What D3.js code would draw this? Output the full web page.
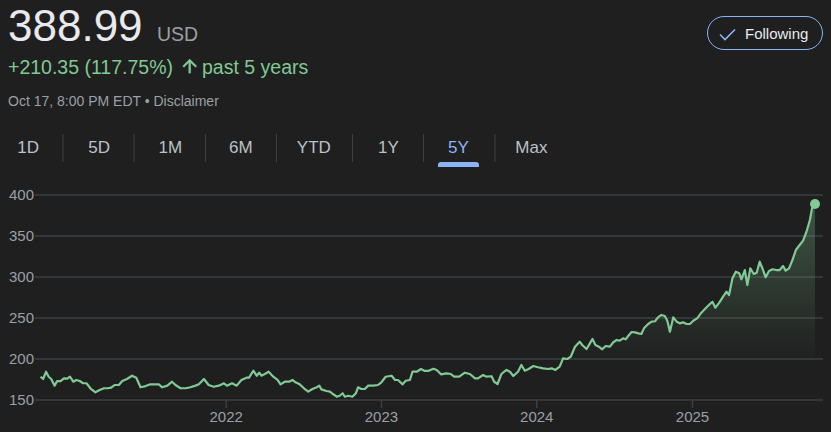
<!DOCTYPE html>
<html>
<head>
<meta charset="utf-8">
<script src="https://cdn.jsdelivr.net/npm/d3@7"></script>
<style>
  html, body { margin: 0; padding: 0; background: #1f1f1f; }
  svg { display: block; }
  text { font-family: "Liberation Sans", Arial, sans-serif; }
</style>
</head>
<body>
<svg id="chart" width="831" height="432"></svg>
<script>
// ---------- data ----------
const dates = [
  "2020-10-23","2020-10-29","2020-11-05","2020-11-11","2020-11-17","2020-11-25","2020-12-01","2020-12-09","2020-12-17","2020-12-25","2020-12-31",
  "2021-01-08","2021-01-15","2021-01-23","2021-01-31","2021-02-08","2021-02-17","2021-03-01","2021-03-11","2021-03-21","2021-03-30","2021-04-07","2021-04-15","2021-04-25","2021-05-03","2021-05-14","2021-05-26","2021-06-05","2021-06-15","2021-06-27","2021-07-08","2021-07-20","2021-07-28","2021-08-05","2021-08-17","2021-08-28","2021-09-05","2021-09-17","2021-09-29","2021-10-10","2021-10-22","2021-10-30","2021-11-11","2021-11-22","2021-12-04","2021-12-16","2021-12-28",
  "2022-01-04","2022-01-16","2022-01-27","2022-02-07","2022-02-19","2022-02-25","2022-03-07","2022-03-15","2022-03-21","2022-03-26","2022-04-03","2022-04-12","2022-04-23","2022-05-03","2022-05-10","2022-05-20","2022-05-30","2022-06-07","2022-06-14","2022-06-24","2022-07-04","2022-07-14","2022-07-24","2022-08-03","2022-08-09","2022-08-14","2022-08-26","2022-09-03","2022-09-11","2022-09-19","2022-09-26","2022-10-03","2022-10-08","2022-10-16","2022-10-26","2022-11-03","2022-11-08","2022-11-16","2022-11-24","2022-12-02","2022-12-14","2022-12-25",
  "2023-01-02","2023-01-12","2023-01-26","2023-02-03","2023-02-10","2023-02-21","2023-02-28","2023-03-10","2023-03-16","2023-03-26","2023-04-05","2023-04-14","2023-04-22","2023-05-04","2023-05-12","2023-05-22","2023-06-04","2023-06-14","2023-06-22","2023-07-04","2023-07-17","2023-07-29","2023-08-10","2023-08-17","2023-08-29","2023-09-06","2023-09-18","2023-09-24","2023-10-02","2023-10-11","2023-10-23","2023-10-31","2023-11-08","2023-11-19","2023-11-27","2023-12-05","2023-12-14","2023-12-25",
  "2024-01-05","2024-01-17","2024-01-29","2024-02-06","2024-02-15","2024-02-25","2024-03-04","2024-03-14","2024-03-22","2024-04-01","2024-04-12","2024-04-18","2024-04-28","2024-05-06","2024-05-12","2024-05-19","2024-05-27","2024-06-04","2024-06-12","2024-06-22","2024-06-30","2024-07-08","2024-07-15","2024-07-23","2024-07-29","2024-08-04","2024-08-12","2024-08-20","2024-08-28","2024-09-04","2024-09-10","2024-09-20","2024-09-28","2024-10-06","2024-10-13","2024-10-21","2024-10-29","2024-11-04","2024-11-10","2024-11-18","2024-11-26","2024-12-03","2024-12-11","2024-12-19","2024-12-27",
  "2025-01-04","2025-01-13","2025-01-23","2025-02-02","2025-02-12","2025-02-18","2025-02-25","2025-03-06","2025-03-15","2025-03-23","2025-03-29","2025-04-06","2025-04-14","2025-04-22","2025-04-27","2025-05-05","2025-05-11","2025-05-18","2025-05-26","2025-06-02","2025-06-09","2025-06-17","2025-06-23","2025-07-01","2025-07-09","2025-07-18","2025-07-26","2025-08-03","2025-08-09","2025-08-17","2025-08-25","2025-09-02","2025-09-11","2025-09-19","2025-09-27","2025-10-05","2025-10-11","2025-10-17"
];
const prices = [
  178.4,175.6,184.5,178.4,175.6,167.5,173.2,173,176.4,176,178.4,
  172.3,174.4,173.2,170.4,170.4,164.3,159.4,162.2,164.3,164.3,165,168.3,168.3,173.2,175.6,179.6,177.2,165.5,167,169.1,169,169,165.5,167.5,172.3,168.3,164.3,164.3,165.5,167.5,169.1,175.6,168.3,166.2,167.5,170.4,
  167.5,170.4,167.5,174.4,177.2,177.2,185.7,179.6,183.3,179.6,181.7,184.5,178.4,174.4,169.1,172.3,172.3,174.4,171.6,169.1,164.3,160.2,163.4,165.5,167.5,163,161,160.2,157,154,155.2,158.2,154,155.2,154,158.2,165.5,163.4,163.4,167.5,167.5,168.3,
  171.6,178.4,179.6,174.4,174.4,169.1,173.5,174.4,184.5,184.5,187.8,185.4,185.4,188.2,186.6,181.3,182.5,181.7,178.4,178.4,183.3,181.7,176.4,176.4,180.5,178.4,179,172.3,169.5,181.7,186.6,184.5,179.3,184.5,192.7,185.7,187.8,191.5,
  189.9,188.6,187.8,188.6,186.6,190.6,200.8,200,202.8,215,221.1,217.1,212.2,219.1,224.4,217.1,215,211.8,215.9,215,220.4,223.2,222.3,225.2,224,228,232.9,232.5,231.3,230.5,237.4,242.7,245.5,246,250.8,253.7,252.4,246.7,233.3,250.8,245.5,243.5,244.7,242.7,242.7,
  246.7,249.6,256.5,261.8,267,269.9,262.6,268.7,276,282.1,278,298.4,306.5,304.5,297.2,308.5,290.2,310.6,303.7,305.3,318.7,308.5,299.6,307.3,309.4,308.5,308.5,313.4,307.7,310.6,320.7,332.9,339,344.3,355.2,369.5,386.6,388.99
];
const yTicks = [150, 200, 250, 300, 350, 400];
const xTickYears = ["2022-01-01", "2023-01-01", "2024-01-01", "2025-01-01"];
const rangeTabs = ["1D", "5D", "1M", "6M", "YTD", "1Y", "5Y", "Max"];
const activeTab = "5Y";
const domainStart = "2020-10-17", domainEnd = "2025-10-17";

const header = {
  price: "388.99", currency: "USD",
  change: "+210.35 (117.75%)", period: "past 5 years",
  stamp: "Oct 17, 8:00 PM EDT • Disclaimer", follow: "Following"
};

// ---------- setup ----------
const parse = d3.timeParse("%Y-%m-%d");
const data = dates.map((d, i) => ({ date: parse(d), value: prices[i] }));
const svg = d3.select("#chart");
const GREEN = "#81c995", GRID = "#3c4043", AXIS = "#9aa0a6", BLUE = "#8ab4f8";

const x = d3.scaleTime().domain([parse(domainStart), parse(domainEnd)]).range([38, 815]);
const y = d3.scaleLinear().domain([150, 400]).range([400, 195]);

// ---------- header ----------
svg.append("text").attr("x", 8).attr("y", 41).attr("font-size", 44).attr("fill", "#e8eaed").text(header.price);
svg.append("text").attr("x", 157).attr("y", 41).attr("font-size", 19.5).attr("fill", AXIS).text(header.currency);
svg.append("text").attr("x", 8).attr("y", 74).attr("font-size", 19.5).attr("fill", GREEN).text(header.change);
svg.append("path")
  .attr("d", "M4 12l1.41 1.41L11 7.83V20h2V7.83l5.58 5.59L20 12l-8-8-8 8z")
  .attr("transform", "translate(179.2,55.6) scale(0.875)")
  .attr("fill", GREEN).attr("stroke", GREEN).attr("stroke-width", 0.6);
svg.append("text").attr("x", 202).attr("y", 74).attr("font-size", 19.5).attr("fill", GREEN).text(header.period);
svg.append("text").attr("x", 8).attr("y", 106).attr("font-size", 14).attr("fill", AXIS).text(header.stamp);

// Following button
svg.append("rect").attr("x", 707.5).attr("y", 16.5).attr("width", 115).attr("height", 33).attr("rx", 16.5)
  .attr("fill", "none").attr("stroke", BLUE).attr("stroke-width", 1);
svg.append("polyline").attr("points", "720,34.5 725,39.5 735,29.5")
  .attr("fill", "none").attr("stroke", BLUE).attr("stroke-width", 1.6);
svg.append("text").attr("x", 745).attr("y", 38.5).attr("font-size", 15).attr("fill", "#e8eaed").text(header.follow);

// ---------- tabs ----------
const tabCenters = [28.1, 99.1, 170.3, 240.9, 313.8, 388.4, 458.5, 531.4];
const sepX = [63, 134, 205.5, 276.5, 352.5, 423.5, 495];
svg.selectAll(".sep").data(sepX).enter().append("line")
  .attr("x1", d => d).attr("x2", d => d).attr("y1", 134).attr("y2", 162)
  .attr("stroke", GRID).attr("stroke-width", 1);
svg.selectAll(".tab").data(rangeTabs).enter().append("text")
  .attr("x", (d, i) => tabCenters[i]).attr("y", 153)
  .attr("text-anchor", "middle").attr("font-size", 17)
  .attr("fill", d => d === activeTab ? BLUE : "#bdc1c6").text(d => d);
const ai = rangeTabs.indexOf(activeTab);
const uw = 41, ux = tabCenters[ai] - uw / 2;
svg.append("path")
  .attr("d", `M${ux},167 L${ux},165 Q${ux},162 ${ux + 3},162 L${ux + uw - 3},162 Q${ux + uw},162 ${ux + uw},165 L${ux + uw},167 Z`)
  .attr("fill", BLUE);

// ---------- grid & axes ----------
svg.selectAll(".grid").data(yTicks).enter().append("line")
  .attr("x1", 35).attr("x2", 823).attr("y1", d => y(d)).attr("y2", d => y(d))
  .attr("stroke", GRID).attr("stroke-width", 1.5);

const yAxis = svg.append("g").attr("transform", "translate(34,0)")
  .call(d3.axisLeft(y).tickValues(yTicks).tickSize(0).tickPadding(0));
yAxis.select(".domain").remove();
yAxis.selectAll("text").attr("font-size", 15).attr("fill", AXIS)
  .attr("font-family", "Liberation Sans, Arial, sans-serif");

const xAxis = svg.append("g").attr("transform", "translate(0,400)")
  .call(d3.axisBottom(x).tickValues(xTickYears.map(parse)).tickFormat(d3.timeFormat("%Y")).tickSize(8).tickPadding(3));
xAxis.select(".domain").remove();
xAxis.selectAll("line").attr("stroke", GRID).attr("stroke-width", 1.5);
xAxis.selectAll("text").attr("font-size", 15).attr("fill", AXIS)
  .attr("font-family", "Liberation Sans, Arial, sans-serif");

// ---------- area & line ----------
const defs = svg.append("defs");
const grad = defs.append("linearGradient").attr("id", "fillGrad")
  .attr("gradientUnits", "userSpaceOnUse")
  .attr("x1", 0).attr("x2", 0).attr("y1", y(395)).attr("y2", y(195));
grad.append("stop").attr("offset", "0%").attr("stop-color", GREEN).attr("stop-opacity", 0.32);
grad.append("stop").attr("offset", "100%").attr("stop-color", GREEN).attr("stop-opacity", 0);

svg.append("path").datum(data)
  .attr("fill", "url(#fillGrad)")
  .attr("d", d3.area().x(d => x(d.date)).y0(y(150)).y1(d => y(d.value)));

svg.append("path").datum(data)
  .attr("fill", "none").attr("stroke", GREEN).attr("stroke-width", 2.2)
  .attr("stroke-linejoin", "round")
  .attr("d", d3.line().x(d => x(d.date)).y(d => y(d.value)));

const last = data[data.length - 1];
svg.append("circle").attr("cx", x(last.date)).attr("cy", y(last.value)).attr("r", 5).attr("fill", GREEN);
</script>
</body>
</html>
